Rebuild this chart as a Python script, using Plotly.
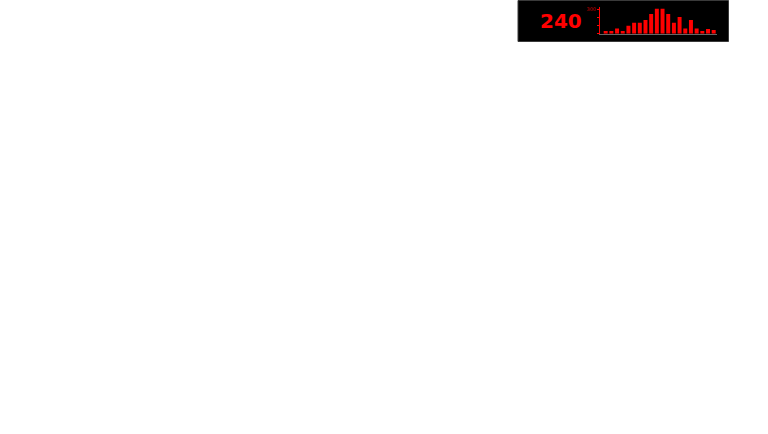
import plotly.graph_objects as go

# small "current value + history" widget in the top right corner
current_value = 240
bar_labels = [str(i) for i in range(1, 21)]
bar_values = [33, 33, 66, 33, 99, 136, 136, 170, 244, 310,
              310, 244, 136, 207, 66, 170, 66, 33, 58, 45]
tick_values = [0, 100, 200, 300]
tick_labels = ['', '', '', '300']

W, H = 768, 434


def px_x(x):
    return x / W


def px_y(y):
    return 1 - y / H


fig = go.Figure()

fig.add_trace(go.Bar(
    x=bar_labels,
    y=bar_values,
    marker_color='#ff0000',
    marker_line_width=0,
    hoverinfo='skip'
))

# black panel behind the widget
fig.add_shape(
    type='rect', xref='paper', yref='paper', layer='below',
    x0=px_x(518), x1=px_x(728.5), y0=px_y(41.5), y1=px_y(0.5),
    fillcolor='black', line=dict(color='#3a3a3a', width=1)
)

fig.add_annotation(
    text=str(current_value), xref='paper', yref='paper',
    x=px_x(560.5), y=px_y(21), xanchor='center', yanchor='middle',
    showarrow=False,
    font=dict(family='DejaVu Sans', size=20, color='#ff0000', weight='bold')
)

fig.update_layout(
    width=W, height=H,
    margin=dict(l=0, r=0, t=0, b=0),
    paper_bgcolor='white',
    plot_bgcolor='rgba(0,0,0,0)',
    showlegend=False,
    bargap=0.3,
    xaxis=dict(
        domain=[px_x(600), px_x(717)],
        range=[-1.0, 19.58],
        showline=True, linecolor='#666666', linewidth=1,
        showticklabels=False, ticks='', showgrid=False, zeroline=False
    ),
    yaxis=dict(
        domain=[px_y(33.7), px_y(7)],
        range=[0, 331],
        showline=True, linecolor='#ff0000', linewidth=1,
        tickvals=tick_values, ticktext=tick_labels,
        ticks='outside', ticklen=2, tickcolor='#ff0000',
        tickfont=dict(family='DejaVu Sans', size=5, color='#cc0000'),
        showgrid=False, zeroline=False
    )
)

# page has a default 8px body margin, drop it so the figure sits at 0,0
fig.write_html("out.html", config={'displayModeBar': False},
               post_script="document.body.style.margin = '0';")
